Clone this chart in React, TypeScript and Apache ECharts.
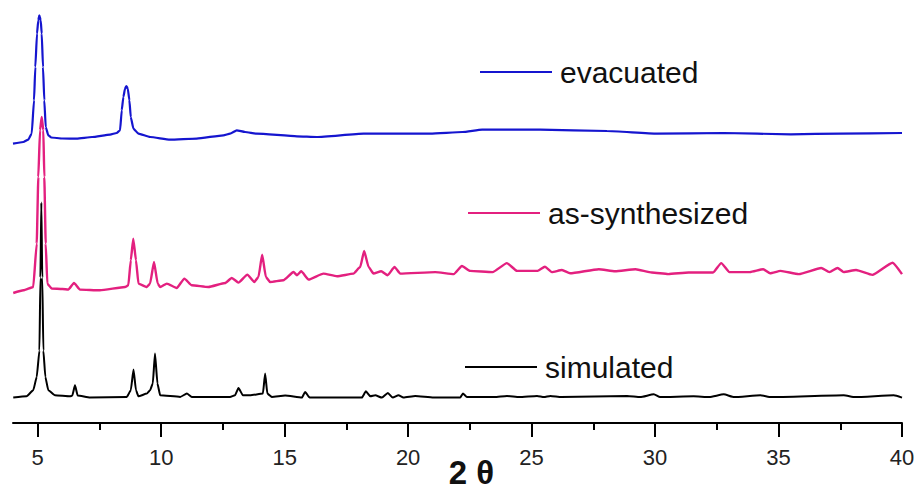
import React, { useEffect, useRef } from "react";
import * as echarts from "echarts";

// 2θ (deg) vs relative intensity (per-trace baseline offsets below)
const evacuated: [number, number][] = [
  [4.0, 9.4], [4.42, 11], [4.62, 13.4], [4.758, 19.4], [4.851, 52.7], [4.904, 86], [4.972, 119.4],
  [5.025, 132.7], [5.066, 137.7], [5.122, 132.7], [5.163, 119.4], [5.215, 86], [5.268, 52.7],
  [5.325, 26], [5.43, 17.7], [5.55, 15.5], [6.0, 14.5], [6.58, 14.4], [7.2, 16], [7.93, 18.4],
  [8.2, 20], [8.335, 22.7], [8.404, 42.7], [8.469, 56], [8.538, 64.4], [8.591, 67], [8.648, 64.4],
  [8.713, 52.7], [8.769, 36], [8.875, 24.4], [9.077, 19.4], [9.55, 16], [10.36, 13.4], [11.44, 14.4],
  [12.52, 17.7], [12.79, 19.4], [13.06, 22.7], [13.4, 21], [13.87, 19.4], [15.5, 16.7], [16.3, 16],
  [18.2, 19.4], [20.9, 19.4], [22.2, 21], [23.0, 23.4], [25.35, 23.4], [28.05, 22], [30.08, 19.4],
  [32.77, 20], [35.5, 18.7], [37.5, 19.4], [40, 20],
];

const asSynthesized: [number, number][] = [
  [4.01, 0], [4.42, 2.7], [4.82, 6], [4.96, 49.4], [5.025, 116], [5.094, 162.7], [5.163, 176],
  [5.228, 162.7], [5.268, 116], [5.325, 49.4], [5.39, 9.4], [5.568, 4.4], [6.0, 4], [6.24, 3.4],
  [6.47, 10], [6.71, 3.4], [7.52, 2.7], [8.54, 6], [8.67, 7.7], [8.77, 32.7], [8.87, 54.4],
  [8.98, 32.7], [9.08, 9.4], [9.42, 6], [9.55, 9.4], [9.71, 31], [9.86, 9.4], [9.96, 6],
  [10.23, 9.4], [10.63, 5], [10.94, 14.4], [11.24, 7.7], [11.91, 6], [12.59, 10], [12.86, 15],
  [13.13, 10.4], [13.49, 18.4], [13.77, 11], [13.94, 16], [14.09, 38.4], [14.24, 16], [14.41, 11],
  [14.95, 12.7], [15.36, 21], [15.5, 17.7], [15.67, 21.7], [15.97, 13.4], [16.57, 19.4],
  [17.12, 16.7], [17.79, 19.4], [18.06, 26], [18.22, 42], [18.4, 26], [18.6, 19.4], [18.91, 21.7],
  [19.17, 17.7], [19.45, 26], [19.68, 19.4], [21.1, 20.9], [21.85, 18.9], [22.18, 27], [22.51, 22.1],
  [23.42, 20.9], [24.0, 29.9], [24.41, 22.1], [25.24, 22.1], [25.54, 26.2], [25.82, 20.9],
  [26.23, 23], [26.56, 19.7], [27.72, 23.8], [28.38, 21.7], [29.21, 23.8], [29.87, 20.5],
  [30.53, 18.9], [31.36, 20.5], [32.35, 20.5], [32.68, 29.9], [33.01, 20.9], [33.84, 20.9],
  [34.38, 23.8], [34.66, 19.7], [35.08, 22.1], [35.82, 18.9], [36.73, 25], [37.06, 20.9],
  [37.39, 25], [37.64, 20.9], [38.14, 23], [38.8, 18.1], [39.62, 30.3], [40, 18.9],
];

const simulated: [number, number][] = [
  [4.01, 0], [4.55, 1.3], [4.82, 7.3], [4.96, 20.6], [5.07, 47], [5.11, 120], [5.147, 195],
  [5.185, 120], [5.23, 47], [5.31, 20.6], [5.43, 7.3], [5.7, 2.3], [6.31, 1.3], [6.4, 2],
  [6.51, 12.3], [6.62, 2], [7.12, 0], [8.61, 0.7], [8.77, 7.3], [8.88, 28], [8.98, 7.3], [9.08, 1.3],
  [9.42, 4], [9.55, 7.3], [9.66, 14], [9.75, 44], [9.85, 14], [9.96, 2.3], [10.77, 0.7], [11.04, 4],
  [11.24, 0.7], [12.79, 0.7], [12.99, 2.3], [13.13, 9.6], [13.31, 2.3], [13.6, 2.3], [14.12, 4],
  [14.21, 24], [14.3, 4], [14.48, 0.7], [15.02, 2], [15.7, 0], [15.83, 5.6], [16.01, 0], [16.98, 0],
  [18.13, 0], [18.29, 6.3], [18.47, 1.3], [18.67, 2.3], [18.94, 0], [19.18, 4.6], [19.38, 0],
  [19.61, 2.3], [19.81, 0], [20.29, 1.6], [21.03, 0], [22.11, 0], [22.22, 4], [22.38, 0.7],
  [23.5, 0.5], [24.0, 1.7], [24.5, 0.5], [25.22, 1.7], [25.5, 0.5], [25.76, 1.7], [26.2, 0.5],
  [28.87, 1.7], [29.4, 0.5], [29.95, 3.3], [30.2, 0.5], [31.56, 1.3], [32.2, 0.5], [32.78, 3.3],
  [33.2, 0.5], [34.27, 2.3], [34.7, 0.5], [37.64, 2.3], [38.1, 0.5], [39.67, 2.3], [40, 0],
];

const offsets = { evacuated: 270, asSynthesized: 130, simulated: 25.4 };
const majorTicks = [5, 10, 15, 20, 25, 30, 35, 40];
const minorTicks = [7.5, 12.5, 17.5, 22.5, 27.5, 32.5, 37.5];

const FONT = "Liberation Sans, Arial, sans-serif";

export default function App() {
  const ref = useRef<HTMLDivElement>(null);
  useEffect(() => {
    if (!ref.current) return;
    const chart = echarts.init(ref.current, null, { renderer: "svg" });
    const shift = (d: [number, number][], o: number) => d.map(([x, v]) => [x, v + o]);
    const legendBase = {
      orient: "horizontal",
      padding: 0,
      icon: "rect",
      itemWidth: 72,
      itemHeight: 2.2,
      selectedMode: false,
      textStyle: { fontSize: 30, color: "#111", fontFamily: FONT, padding: [0, 0, 0, 3] },
    };
    chart.setOption({
      animation: false,
      backgroundColor: "#fff",
      grid: { left: 13, right: 17, top: 13, bottom: 69, containLabel: false, outerBoundsMode: "none" },
      legend: [
        { ...legendBase, data: ["evacuated"], left: 480, top: 57 },
        { ...legendBase, data: ["as-synthesized"], left: 468, top: 198 },
        { ...legendBase, data: ["simulated"], left: 465, top: 352 },
      ],
      xAxis: [
        {
          type: "value",
          min: 4,
          max: 40,
          position: "bottom",
          name: "2 θ",
          nameLocation: "middle",
          nameGap: 33,
          nameMoveOverlap: false,
          nameTextStyle: {
            fontSize: 33,
            lineHeight: 33,
            fontWeight: "bold",
            color: "#111",
            fontFamily: FONT,
            padding: [0, 0, 0, 28],
          },
          axisLine: { show: true, lineStyle: { color: "#000", width: 2 } },
          axisTick: { show: true, inside: false, length: 14, customValues: majorTicks, lineStyle: { color: "#000", width: 2 } },
          axisLabel: { show: true, customValues: majorTicks, fontSize: 22, color: "#222", margin: 23, fontFamily: FONT },
          splitLine: { show: false },
        },
        {
          type: "value",
          min: 4,
          max: 40,
          position: "bottom",
          axisLine: { show: false },
          axisTick: { show: true, inside: false, length: 7, customValues: minorTicks, lineStyle: { color: "#000", width: 2 } },
          axisLabel: { show: false },
          splitLine: { show: false },
        },
      ],
      yAxis: { type: "value", min: 0, max: 410, show: false },
      series: [
        {
          name: "evacuated",
          type: "line",
          data: shift(evacuated, offsets.evacuated),
          symbol: "none",
          smooth: 0.15,
          smoothMonotone: "x",
          lineStyle: { color: "#1515cf", width: 2.2 },
          itemStyle: { color: "#1515cf" },
        },
        {
          name: "simulated",
          type: "line",
          data: shift(simulated, offsets.simulated),
          symbol: "none",
          smooth: 0.15,
          smoothMonotone: "x",
          lineStyle: { color: "#000", width: 2 },
          itemStyle: { color: "#000" },
        },
        {
          name: "as-synthesized",
          type: "line",
          data: shift(asSynthesized, offsets.asSynthesized),
          symbol: "none",
          smooth: 0.15,
          smoothMonotone: "x",
          lineStyle: { color: "#e3207f", width: 2.4 },
          itemStyle: { color: "#e3207f" },
        },
      ],
    });
    return () => chart.dispose();
  }, []);
  return <div ref={ref} style={{ position: "fixed", left: 0, top: 0, width: 919, height: 492, background: "#fff" }} />;
}
